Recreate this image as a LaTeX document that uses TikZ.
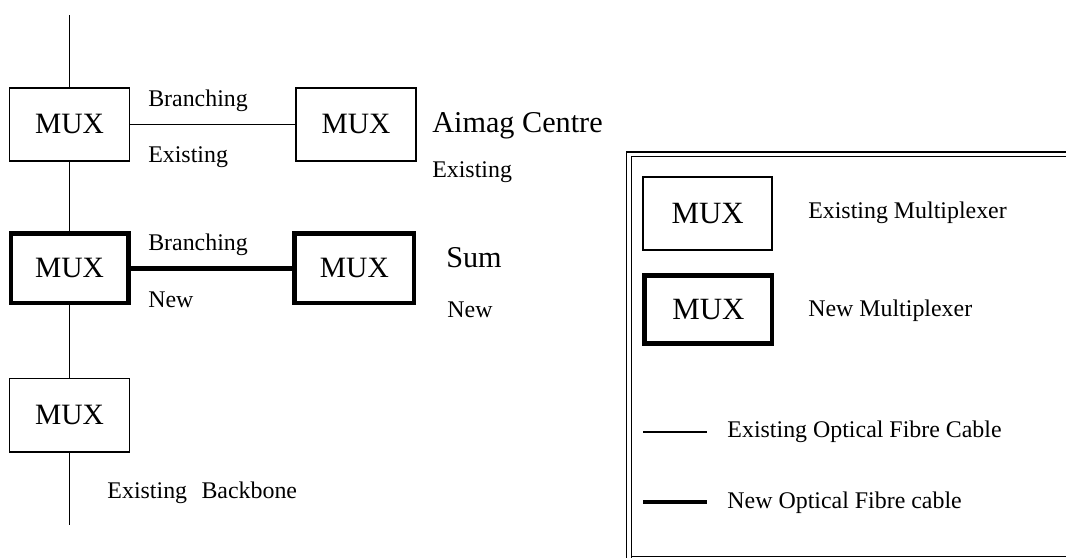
\documentclass[tikz,border=0pt]{standalone}
\usepackage{fontspec}
\setmainfont{Liberation Serif}
\usepackage{tikz}
\usetikzlibrary{positioning}

\begin{document}
\begin{tikzpicture}[
  muxold/.style={draw, line width=1.1pt, inner sep=0pt, minimum width=3.0cm, minimum height=1.83cm,
                 font=\fontsize{21}{24}\selectfont},
  muxnew/.style={draw, line width=3.5pt, inner sep=0pt, minimum width=2.93cm, minimum height=1.73cm,
                 font=\fontsize{21}{24}\selectfont},
  oldcab/.style={line width=1.1pt},
  newcab/.style={line width=3.5pt},
  lbl/.style={anchor=base west, inner sep=0pt, font=\fontsize{17}{20}\selectfont},
  big/.style={anchor=base west, inner sep=0pt, font=\fontsize{21.5}{25}\selectfont}]

  \useasboundingbox (0,0) rectangle (26.65,-13.95);

  % backbone with multiplexers
  \coordinate (bbtop) at (1.74,-0.38);
  \node[muxold] (mux1) at (1.74,-3.11)  {MUX};
  \node[muxnew] (mux3) at (1.74,-6.71)  {MUX};
  \node[muxold] (mux5) at (1.74,-10.38) {MUX};
  \coordinate (bbbot) at (1.74,-13.13);
  \draw[oldcab] (bbtop) -- (mux1);
  \draw[oldcab] (mux1) -- (mux3);
  \draw[oldcab] (mux3) -- (mux5);
  \draw[oldcab] (mux5) -- (bbbot);
  \node[lbl] (bbone) at (2.68,-12.45) {Existing\hspace{0.6em}Backbone};

  % branches
  \node[muxold] (aimag) at (8.9,-3.11) {MUX};
  \node[muxnew, minimum width=2.98cm] (sum) at (8.86,-6.71) {MUX};
  \draw[oldcab] (mux1) -- (aimag);
  \draw[newcab] (mux3) -- (sum);
  \node[lbl] (br1) at (3.7,-2.675) {Branching};
  \node[lbl] (ex1) at (3.7,-4.075) {Existing};
  \node[lbl] (br2) at (3.7,-6.25)  {Branching};
  \node[lbl] (nw1) at (3.7,-7.675) {New};
  \node[big] (aimaglbl) at (10.8,-3.325) {Aimag Centre};
  \node[lbl] (ex2) at (10.8,-4.45) {Existing};
  \node[big] (sumlbl) at (11.15,-6.675) {Sum};
  \node[lbl] (nw2) at (11.18,-7.925) {New};

  % legend
  \draw[line width=0.8pt, double, double distance=2.7pt] (15.73,-14.2) -- (15.73,-3.86) -- (26.9,-3.86);
  \draw[line width=0.8pt] (15.8,-13.92) -- (26.65,-13.92);
  \node[muxold, minimum width=3.23cm, font=\fontsize{22}{26}\selectfont] (legold) at (17.69,-5.34) {MUX};
  \node[muxnew, minimum width=3.18cm, minimum height=1.70cm, font=\fontsize{22}{26}\selectfont] (legnew) at (17.71,-7.73) {MUX};
  \node[lbl] (legoldlbl) at (20.2,-5.475) {Existing Multiplexer};
  \node[lbl] (legnewlbl) at (20.2,-7.9)   {New Multiplexer};
  \coordinate (oa) at (16.08,-10.8);
  \coordinate (ob) at (17.68,-10.8);
  \coordinate (na) at (16.08,-12.55);
  \coordinate (nb) at (17.68,-12.55);
  \draw[oldcab] (oa) -- (ob);
  \draw[newcab] (na) -- (nb);
  \node[lbl] (legocab) at (18.18,-10.925) {Existing Optical Fibre Cable};
  \node[lbl] (legncab) at (18.18,-12.7)   {New Optical Fibre cable};
\end{tikzpicture}
\end{document}
